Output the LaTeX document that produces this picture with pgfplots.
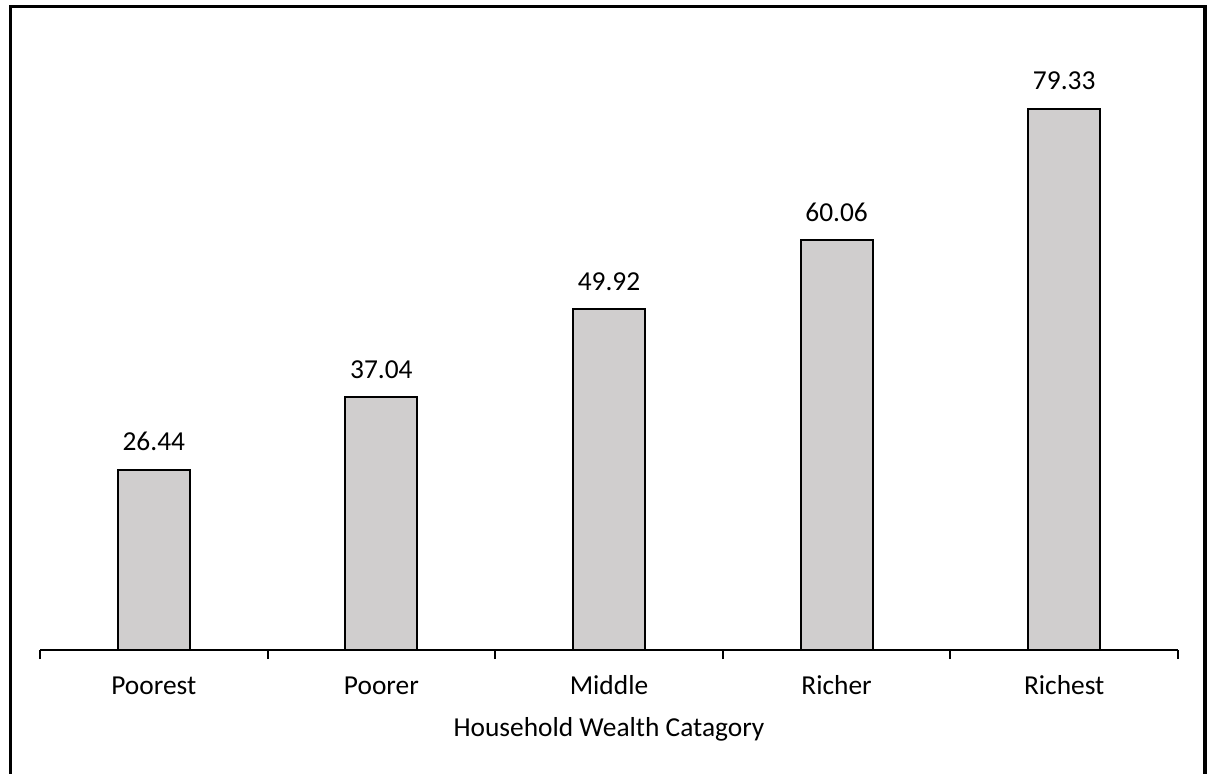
\documentclass[border=0pt]{standalone}
\usepackage{pgfplots}
\pgfplotsset{compat=1.18}
\usepackage{fontspec}
\setmainfont{Carlito}
\definecolor{barfill}{HTML}{D0CECE}
\begin{document}
\begin{tikzpicture}
\path[use as bounding box] (0,0) rectangle (605bp,387bp);
\draw[line width=1.6bp] (5.25bp,-5bp) -- (5.25bp,383.75bp) -- (602.5bp,383.75bp) -- (602.5bp,-5bp);
\begin{axis}[
  at={(20bp,62bp)}, anchor=south west,
  scale only axis,
  width=569bp, height=290.0625bp,
  xmin=0.5, xmax=5.5, ymin=0, ymax=85,
  axis x line=bottom, axis y line=none,
  x axis line style={-, line width=1bp},
  xtick={1,2,3,4,5},
  xticklabels={Poorest,Poorer,Middle,Richer,Richest},
  major tick length=0pt,
  minor xtick={0.5,1.5,2.5,3.5,4.5,5.5},
  minor tick length=4.5bp,
  tick align=outside,
  every tick/.style={black, line width=1bp},
  ytick=\empty,
  xticklabel style={font=\fontsize{13.75}{16}\selectfont, anchor=base, yshift=-22.15bp},
  xlabel={Household Wealth Catagory},
  xlabel style={font=\fontsize{13.75}{16}\selectfont, at={(axis description cs:0.5,0)}, anchor=base, yshift=-43bp},
  ybar, bar width=36bp,
  nodes near coords,
  point meta=explicit symbolic,
  every node near coord/.append style={font=\fontsize{13.75}{16}\selectfont, anchor=base, yshift=9.5bp, black},
  clip=false,
]
\addplot[fill=barfill, draw=black, line width=1bp] table[meta=label] {
x y label
1 26.44 26.44
2 37.04 37.04
3 49.92 49.92
4 60.06 60.06
5 79.33 79.33
};
\end{axis}
\end{tikzpicture}
\end{document}
